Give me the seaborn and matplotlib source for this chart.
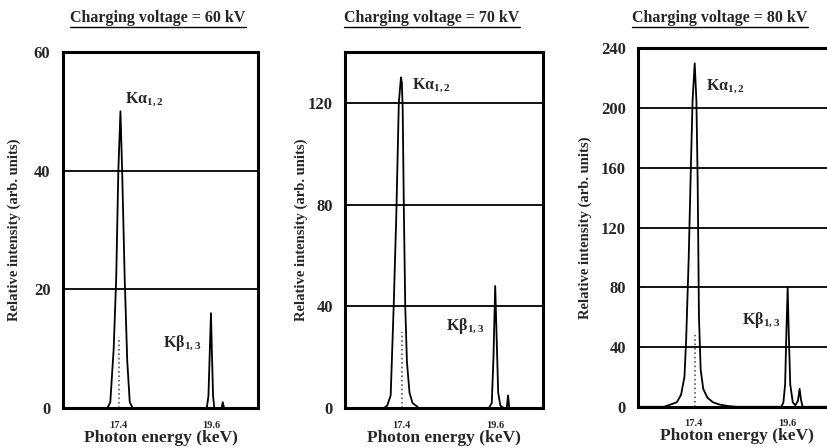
import numpy as np
import pandas as pd
import matplotlib
matplotlib.use("Agg")
import matplotlib.pyplot as plt
from matplotlib.lines import Line2D
import seaborn as sns

# values (energy in keV, relative intensity)
energy_60 = [16.1, 17.15, 17.22, 17.30, 17.36, 17.41, 17.46, 17.50, 17.56, 17.62, 17.68, 17.75,
             19.50, 19.54, 19.57, 19.60, 19.62, 19.65, 19.68, 19.85, 19.88, 19.91, 20.72]
inten_60 = [0, 0, 1, 10, 22, 40, 50, 40, 22, 8, 1, 0,
            0, 2, 9, 16, 10, 2, 0, 0, 1, 0, 0]

energy_70 = [16.1, 17.0, 17.08, 17.16, 17.23, 17.29, 17.35, 17.40, 17.42, 17.44, 17.47, 17.50,
             17.54, 17.60, 17.67, 17.75, 17.82, 19.45, 19.52, 19.56, 19.60, 19.63, 19.67, 19.72,
             19.80, 19.87, 19.90, 19.93, 20.72]
inten_70 = [0, 0, 1, 5, 40, 75, 120, 130, 128, 118, 75, 40,
            18, 6, 2, 1, 0, 0, 2, 20, 48, 30, 6, 1,
            0, 0, 5, 0, 0]

energy_80 = [16.1, 16.7, 16.9, 17.0, 17.1, 17.18, 17.22, 17.28, 17.33, 17.37, 17.42, 17.46,
             17.49, 17.52, 17.56, 17.62, 17.72, 17.85, 18.0, 18.2, 18.4, 19.45, 19.50, 19.54,
             19.57, 19.60, 19.62, 19.66, 19.72, 19.78, 19.84, 19.88, 19.91, 19.95, 20.72]
inten_80 = [0, 0, 2, 3, 8, 20, 45, 100, 160, 205, 230, 205,
            150, 60, 25, 12, 6, 3, 1.5, 0.5, 0, 0, 3, 15,
            50, 80, 55, 15, 3, 1, 4, 12, 5, 0, 0]

voltages = [60, 70, 80]
ymax = [60, 140, 240]
yticks = [[0, 20, 40, 60], [0, 40, 80, 120], [0, 40, 80, 120, 160, 200, 240]]
xticks = [17.4, 19.6]
dotted_top = [12, 30, 48]  # grey dotted line under the K-alpha peak
ka_pos = [(17.57, 52), (17.66, 127), (17.69, 215)]
kb_pos = [(18.47, 11), (18.44, 32), (18.52, 58)]

df = pd.concat([
    pd.DataFrame({"energy": energy_60, "intensity": inten_60, "kV": 60}),
    pd.DataFrame({"energy": energy_70, "intensity": inten_70, "kV": 70}),
    pd.DataFrame({"energy": energy_80, "intensity": inten_80, "kV": 80}),
])

sns.set_theme(style="white")
plt.rcParams['font.family'] = ['Liberation Serif', 'DejaVu Serif']
plt.rcParams['font.weight'] = 'bold'
plt.rcParams['mathtext.fontset'] = 'custom'
plt.rcParams['mathtext.rm'] = 'Liberation Serif:bold'
plt.rcParams['mathtext.it'] = 'Liberation Serif:bold'
plt.rcParams['mathtext.bf'] = 'Liberation Serif:bold'

fig = plt.figure(figsize=(8.28, 4.48), dpi=100)
positions = [[0.076, 0.089, 0.236, 0.795],
             [0.417, 0.089, 0.239, 0.795],
             [0.771, 0.092, 0.238, 0.800]]
title_cx = [158 / 828, 432 / 828, 720 / 828]
ylabel_x = [-0.215, -0.19, -0.233]

titles = []
for i, kv in enumerate(voltages):
    ax = fig.add_axes(positions[i])
    sub = df[df["kV"] == kv]
    sns.lineplot(data=sub, x="energy", y="intensity", color="black", lw=1.3,
                 estimator=None, sort=False, ax=ax)
    ax.vlines(xticks[0] + 0.02, 0, dotted_top[i], colors="0.35", linestyles=":", lw=1.2)
    ax.set_xlim(16.1, 20.72)
    ax.set_ylim(0, ymax[i])
    ax.set_yticks(yticks[i])
    ax.set_xticks(xticks)
    ax.yaxis.grid(True, color="black", lw=1.3)
    ax.xaxis.grid(False)
    for s in ax.spines.values():
        s.set_color("black")
        s.set_linewidth(2.2)
    ax.tick_params(axis="y", length=0, labelsize=12, pad=9)
    ax.tick_params(axis="x", length=0, labelsize=7.5, pad=9)
    ax.set_xlabel("Photon energy (keV)", fontsize=12.5, fontweight="bold", labelpad=0)
    ax.set_ylabel("Relative intensity (arb. units)", fontsize=10.5, fontweight="bold")
    ax.yaxis.set_label_coords(ylabel_x[i], 0.5)
    ax.text(ka_pos[i][0], ka_pos[i][1], "Kα$_{1,2}$", fontsize=11.5,
            fontweight="bold", va="center", ha="left")
    ax.text(kb_pos[i][0], kb_pos[i][1], "Kβ$_{1,3}$", fontsize=11.5,
            fontweight="bold", va="center", ha="left")
    t = fig.text(title_cx[i], 1 - 18 / 448, "Charging voltage = %d kV" % kv,
                 ha="center", va="center", fontsize=11.5, fontweight="bold")
    titles.append(t)

# underline the titles like in the scanned figure
fig.canvas.draw()
renderer = fig.canvas.get_renderer()
for t in titles:
    bb = t.get_window_extent(renderer).transformed(fig.transFigure.inverted())
    fig.add_artist(Line2D([bb.x0, bb.x1], [bb.y0 - 0.002, bb.y0 - 0.002],
                          transform=fig.transFigure, color="black", lw=1.0))

fig.savefig("out.png", dpi=100)
